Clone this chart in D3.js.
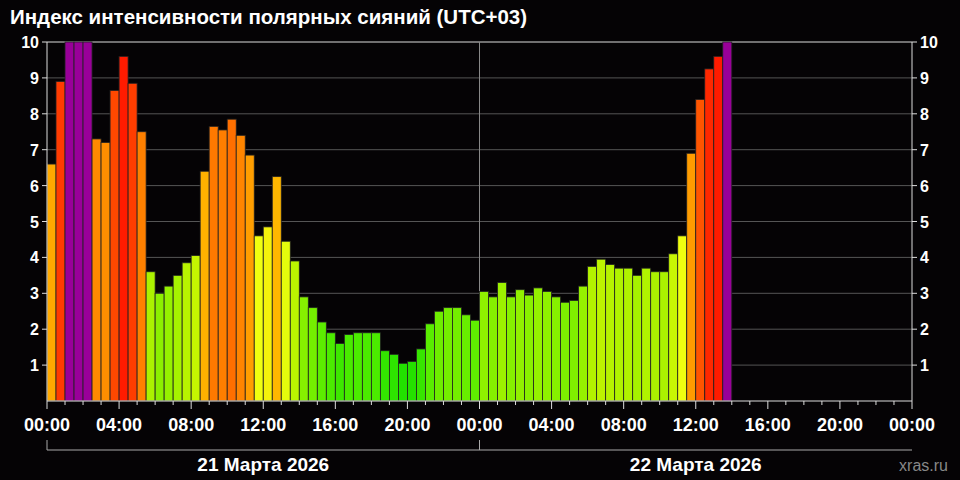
<!DOCTYPE html><html><head><meta charset="utf-8">
<script src="https://cdn.jsdelivr.net/npm/d3@7"></script>
<style>body{margin:0;background:#050305}</style></head><body>
<svg id="c" width="960" height="480"></svg>
<script>
const title = "Индекс интенсивности полярных сияний (UTC+03)";
const values = [6.6,8.9,10,10,10,7.3,7.2,8.65,9.6,8.85,7.5,3.6,3.0,3.2,3.5,3.85,4.05,6.4,7.65,7.55,7.85,7.4,6.85,4.6,4.85,6.25,4.45,3.9,2.9,2.6,2.2,1.9,1.6,1.85,1.9,1.9,1.9,1.4,1.3,1.05,1.1,1.45,2.15,2.5,2.6,2.6,2.4,2.25,
3.05,2.9,3.3,2.9,3.1,2.95,3.15,3.05,2.9,2.75,2.8,3.2,3.75,3.95,3.8,3.7,3.7,3.5,3.7,3.6,3.6,4.1,4.6,6.9,8.4,9.25,9.6,10];
const yTicks = [1,2,3,4,5,6,7,8,9,10];
const xTickLabels = ["00:00","04:00","08:00","12:00","16:00","20:00","00:00","04:00","08:00","12:00","16:00","20:00","00:00"];
const dayLabels = ["21 Марта 2026","22 Марта 2026"];
const svg = d3.select("#c");
const L=47,R=912,T=42,B=401;
const x = d3.scaleLinear().domain([0,48]).range([L,R]);
const y = d3.scaleLinear().domain([0,10]).range([B,T]);
const col = d3.scaleLinear().domain([1,2,3,4,4.6,5.5,6.5,7.5,8.5,9.4,9.99])
 .range(["#20e000","#50ec00","#8cf000","#c0f400","#f0ff10","#ffd000","#ffae00","#ff8000","#ff5000","#ff2000","#ff1000"]).clamp(true);
const color = v => v>=10 ? "#990099" : col(v);
svg.append("text").attr("x",10).attr("y",24).attr("fill","#fff").attr("font-family","Liberation Sans, Arial").attr("font-weight","bold").attr("font-size",20.5).text(title);
svg.selectAll("line.g").data(yTicks.slice(0,-1)).join("line").attr("x1",L).attr("x2",R).attr("y1",d=>y(d)).attr("y2",d=>y(d)).attr("stroke","#555");
svg.append("line").attr("x1",L).attr("x2",R).attr("y1",y(10)).attr("y2",y(10)).attr("stroke","#ddd");
svg.append("line").attr("x1",x(24)).attr("x2",x(24)).attr("y1",T).attr("y2",B).attr("stroke","#888");
svg.selectAll("rect.b").data(values).join("rect").attr("x",(d,i)=>x(i*0.5)).attr("width",x(0.5)-x(0)).attr("y",d=>y(d)).attr("height",d=>B-y(d))
 .attr("fill",color).attr("stroke","#222").attr("stroke-width",0.8);
const fnt = s=>s.attr("font-family","Liberation Sans, Arial").attr("font-weight","bold").attr("fill","#fff");
[[L,-1,"end"],[R,1,"start"]].forEach(([xx,dir,anc])=>{
  svg.append("line").attr("x1",xx).attr("x2",xx).attr("y1",T).attr("y2",B).attr("stroke","#ddd");
  svg.selectAll(null).data(yTicks).join("line").attr("x1",xx).attr("x2",xx+dir*5).attr("y1",d=>y(d)).attr("y2",d=>y(d)).attr("stroke","#ddd");
  svg.selectAll(null).data(yTicks).join("text").attr("x",xx+dir*8).attr("y",d=>y(d)+6).attr("text-anchor",anc).attr("font-size",16).call(fnt).text(d=>d);
});
svg.append("line").attr("x1",L).attr("x2",R).attr("y1",B).attr("y2",B).attr("stroke","#ddd");
svg.selectAll(null).data(d3.range(0,49)).join("line").attr("x1",d=>x(d)).attr("x2",d=>x(d)).attr("y1",B).attr("y2",d=>B+(d%4===0?8:4)).attr("stroke","#ddd");
svg.selectAll(null).data(xTickLabels).join("text").attr("x",(d,i)=>x(i*4)).attr("y",431).attr("text-anchor","middle").attr("font-size",18).call(fnt).text(d=>d);
const bp = `M${x(0)},440V450H${x(48)}M${x(24)},440V450`;
svg.append("path").attr("d",bp).attr("fill","none").attr("stroke","#aaa");
svg.selectAll(null).data(dayLabels).join("text").attr("x",(d,i)=>x(i*24+12)).attr("y",471).attr("text-anchor","middle").attr("font-size",19).call(fnt).text(d=>d);
svg.append("text").attr("x",948).attr("y",471).attr("text-anchor","end").attr("fill","#888").attr("font-family","Liberation Sans, Arial").attr("font-size",16).text("xras.ru");
</script></body></html>
